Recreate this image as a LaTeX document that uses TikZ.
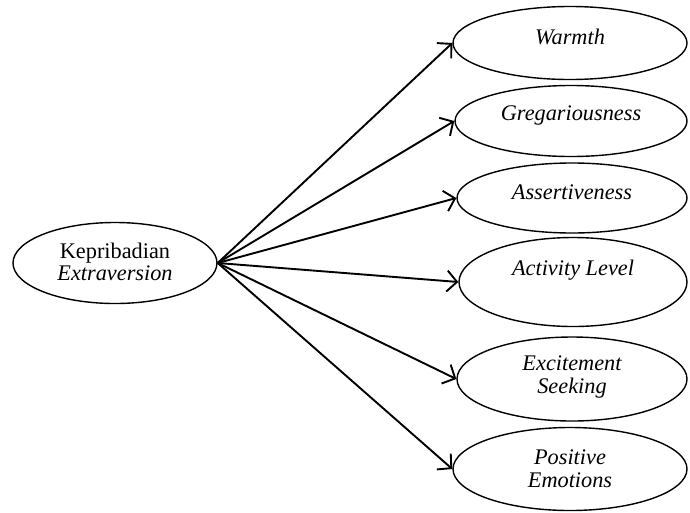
\documentclass[tikz,border=0pt]{standalone}
\usepackage{fontspec}
\setmainfont{Liberation Serif}
\usetikzlibrary{shapes.geometric,arrows.meta}
\begin{document}
\begin{tikzpicture}[x=1pt,y=-1pt,
  oval/.style={draw, ellipse, line width=1.4pt, inner sep=0pt},
  txt/.style={font=\fontsize{22.3}{23}\selectfont\itshape, align=center, inner sep=0pt},
  link/.style={line width=1.9pt, -{Straight Barb[length=10pt,width=21pt,line width=1.9pt]}}]
\useasboundingbox (0,0) rectangle (690,512);
\node[oval, minimum width=204pt, minimum height=81pt] (src) at (115,263) {};
\node[txt, font=\fontsize{22.3}{22}\selectfont] at (115,262) {Kepribadian\\\textit{Extraversion}};

\node[oval, minimum width=234pt, minimum height=73pt] (w) at (570,43) {};
\node[txt] at (570,37) {Warmth};
\node[oval, minimum width=232pt, minimum height=71pt] (g) at (571,121) {};
\node[txt] at (571,115) {Gregariousness};
\node[oval, minimum width=230pt, minimum height=70pt] (as) at (572,198) {};
\node[txt] at (572,192) {Assertiveness};
\node[oval, minimum width=228pt, minimum height=89pt] (ac) at (573,282) {};
\node[txt] at (573,270) {Activity Level};
\node[oval, minimum width=230pt, minimum height=84pt] (ex) at (572,379) {};
\node[txt] at (572,377) {Excitement\\Seeking};
\node[oval, minimum width=234pt, minimum height=83pt] (pe) at (570,469) {};
\node[txt] at (570,469) {Positive\\Emotions};

\foreach \t in {w,g,as,ac,ex,pe}
  \draw[link] (src.east) -- (\t.west);
\end{tikzpicture}
\end{document}
